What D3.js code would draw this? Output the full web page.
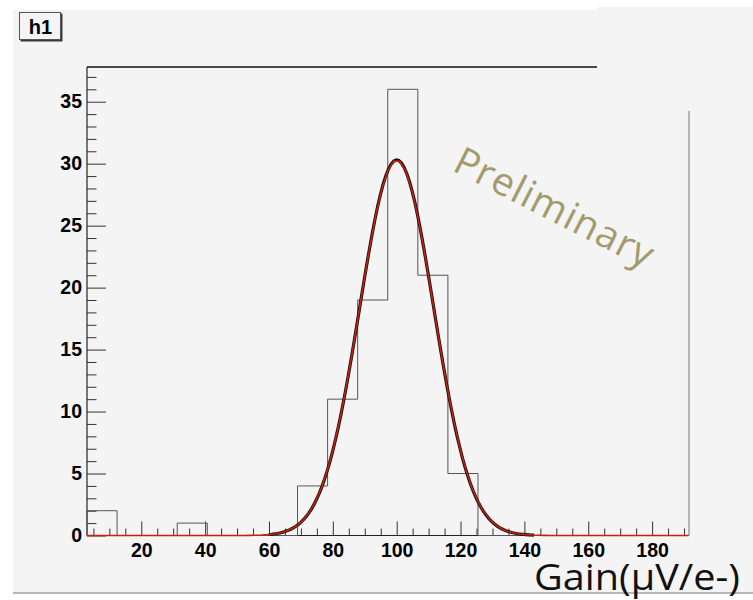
<!DOCTYPE html>
<html>
<head>
<meta charset="utf-8">
<script src="https://cdn.jsdelivr.net/npm/d3@7"></script>
<style>
  html, body { margin: 0; padding: 0; background: #ffffff; }
  svg { display: block; }
</style>
</head>
<body>
<svg id="chart" width="753" height="600"></svg>
<script>
// Histogram h1: gain distribution with a Gaussian fit
const histTitle = "h1";
const xMin = 3.0;
const xMax = 191.4;
const binCounts = [2, 0, 0, 1, 0, 0, 0, 4, 11, 19, 36, 21, 5, 0, 0, 0, 0, 0, 0, 0];
const yMax = 37.8;
const xTickValues = [20, 40, 60, 80, 100, 120, 140, 160, 180];
const yTickValues = [0, 5, 10, 15, 20, 25, 30, 35];
// Gaussian fit parameters: constant, mean, sigma
const fitConstant = 30.3;
const fitMean = 100.0;
const fitSigma = 11.6;
const fitRange = [60, 143];
const xTitle = "Gain(\u03bcV/e-)";
const watermark = "Preliminary";

const svg = d3.select("#chart");
const bg = "#f4f4f4";

// canvas background pieces
svg.append("rect").attr("x", 13).attr("y", 10).attr("width", 584).attr("height", 583).attr("fill", bg);
svg.append("rect").attr("x", 597).attr("y", 7).attr("width", 156).attr("height", 586).attr("fill", bg);
svg.append("line").attr("x1", 13).attr("x2", 753).attr("y1", 593).attr("y2", 593)
  .attr("stroke", "#b8b8b8").attr("stroke-width", 2);

const x = d3.scaleLinear().domain([xMin, xMax]).range([87, 688.5]);
const y = d3.scaleLinear().domain([0, yMax]).range([535.5, 67]);

const labelFont = "'Liberation Sans', Arial, sans-serif";

// minor ticks
const nBins = binCounts.length;
const binWidth = (xMax - xMin) / nBins;
const xMinor = d3.range(5, 191, 5).filter(v => v % 20 !== 0);
const yMinor = d3.range(1, 38, 1).filter(v => v % 5 !== 0);

const xMinorAxis = d3.axisBottom(x).tickValues(xMinor).tickSizeInner(-7).tickSizeOuter(0).tickFormat("");
const yMinorAxis = d3.axisLeft(y).tickValues(yMinor).tickSizeInner(-9.5).tickSizeOuter(0).tickFormat("");

const gxm = svg.append("g").attr("transform", `translate(0,${y(0)})`).call(xMinorAxis);
const gym = svg.append("g").attr("transform", `translate(${x(xMin)},0)`).call(yMinorAxis);

const xAxis = d3.axisBottom(x).tickValues(xTickValues).tickSizeInner(-14).tickSizeOuter(0).tickPadding(8);
const yAxis = d3.axisLeft(y).tickValues(yTickValues).tickSizeInner(-19).tickSizeOuter(0).tickPadding(5);

const gx = svg.append("g").attr("transform", `translate(0,${y(0)})`).call(xAxis);
const gy = svg.append("g").attr("transform", `translate(${x(xMin)},0)`).call(yAxis);

[gxm, gym, gx, gy].forEach(g => {
  g.select(".domain").remove();
  g.selectAll(".tick line").attr("stroke", "#333").attr("stroke-width", 1);
});
[gx, gy].forEach(g => {
  g.selectAll(".tick text")
    .attr("font-family", labelFont)
    .attr("font-weight", "bold")
    .attr("font-size", 19.5)
    .attr("fill", "#000");
});

// frame lines
svg.append("line").attr("x1", x(xMin)).attr("x2", x(xMin)).attr("y1", y(yMax)).attr("y2", y(0))
  .attr("stroke", "#222").attr("stroke-width", 1.2);
svg.append("line").attr("x1", x(xMin)).attr("x2", x(xMax)).attr("y1", y(0)).attr("y2", y(0))
  .attr("stroke", "#222").attr("stroke-width", 1.2);
svg.append("line").attr("x1", x(xMin)).attr("x2", 597).attr("y1", y(yMax)).attr("y2", y(yMax))
  .attr("stroke", "#111").attr("stroke-width", 1.6);
svg.append("line").attr("x1", x(xMax) + 0.5).attr("x2", x(xMax) + 0.5).attr("y1", 111).attr("y2", y(0))
  .attr("stroke", "#777").attr("stroke-width", 1);

// histogram outline
const histPts = [[x(xMin), y(0)]];
binCounts.forEach((c, i) => {
  const lo = xMin + i * binWidth, hi = lo + binWidth;
  histPts.push([x(lo), y(c)]);
  histPts.push([x(hi), y(c)]);
});
histPts.push([x(xMax), y(0)]);
svg.append("path")
  .attr("d", d3.line()(histPts))
  .attr("fill", "none")
  .attr("stroke", "#555")
  .attr("stroke-width", 1);

// Gaussian fit curve
const gauss = v => fitConstant * Math.exp(-0.5 * Math.pow((v - fitMean) / fitSigma, 2));
const curve = d3.line().x(d => x(d)).y(d => y(gauss(d)));
const fullXs = d3.range(0, 101).map(i => xMin + (xMax - xMin) * i / 100);
const fitXs = d3.range(0, 101).map(i => fitRange[0] + (fitRange[1] - fitRange[0]) * i / 100);

svg.append("path").attr("d", curve(fitXs))
  .attr("fill", "none").attr("stroke", "#111").attr("stroke-width", 3.2);
svg.append("path").attr("d", curve(fullXs))
  .attr("fill", "none").attr("stroke", "#c8200e").attr("stroke-width", 1.6);

// title box
svg.append("rect").attr("x", 20.5).attr("y", 13.5).attr("width", 42).attr("height", 28)
  .attr("fill", "#3a3a3a");
svg.append("rect").attr("x", 19.5).attr("y", 12.5).attr("width", 41).attr("height", 27)
  .attr("fill", bg).attr("stroke", "#555").attr("stroke-width", 1);
svg.append("text").attr("x", 40.5).attr("y", 34)
  .attr("text-anchor", "middle")
  .attr("font-family", labelFont).attr("font-weight", "bold").attr("font-size", 20)
  .text(histTitle);

// watermark
svg.append("text")
  .attr("transform", "translate(451,170) rotate(27)")
  .attr("font-family", "'Open Sans', sans-serif")
  .attr("font-size", 39)
  .attr("fill", "#a39b6b")
  .attr("textLength", 218)
  .attr("lengthAdjust", "spacing")
  .text(watermark);

// x-axis title
svg.append("text")
  .attr("x", 740).attr("y", 590)
  .attr("text-anchor", "end")
  .attr("font-family", "'Open Sans', sans-serif")
  .attr("font-size", 37)
  .attr("fill", "#111")
  .attr("textLength", 206)
  .attr("lengthAdjust", "spacingAndGlyphs")
  .text(xTitle);
</script>
</body>
</html>
